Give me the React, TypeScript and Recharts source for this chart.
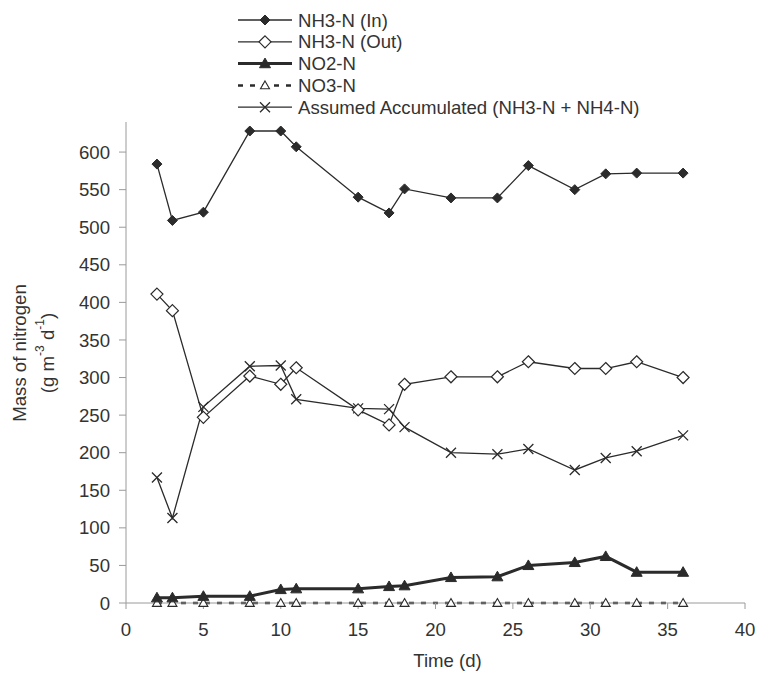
import React from 'react';
import { LineChart, Line, XAxis, YAxis, Legend } from 'recharts';

const days = [2, 3, 5, 8, 10, 11, 15, 17, 18, 21, 24, 26, 29, 31, 33, 36];
const nh3In = [584, 509, 520, 628, 628, 607, 540, 519, 551, 539, 539, 582, 550, 571, 572, 572];
const nh3Out = [411, 389, 247, 302, 291, 313, 257, 237, 291, 301, 301, 321, 312, 312, 321, 300];
const no2 = [7, 7, 9, 9, 18, 19, 19, 22, 23, 34, 35, 50, 54, 62, 41, 41];
const no3 = [0, 0, 0, 0, 0, 0, 0, 0, 0, 0, 0, 0, 0, 0, 0, 0];
const accum = [167, 113, 261, 315, 316, 271, 259, 258, 234, 200, 198, 205, 177, 193, 202, 223];

const xTicks = [0, 5, 10, 15, 20, 25, 30, 35, 40];
const yTicks = [0, 50, 100, 150, 200, 250, 300, 350, 400, 450, 500, 550, 600];

const seriesNames = [
  'NH3-N (In)',
  'NH3-N (Out)',
  'NO2-N',
  'NO3-N',
  'Assumed Accumulated (NH3-N + NH4-N)',
];

const data = days.map((d, i) => ({
  day: d,
  nh3In: nh3In[i],
  nh3Out: nh3Out[i],
  no2: no2[i],
  no3: no3[i],
  accum: accum[i],
}));

const INK = '#2b2b2b';
const TXT = '#333333';
const AXIS = '#9a9a9a';
const FONT = '"Liberation Sans", Arial, sans-serif';
const FS = 18.6;

type Kind = 'fdiamond' | 'odiamond' | 'ftri' | 'otri' | 'x';

function Marker({ kind, cx, cy }: { kind: Kind; cx: number; cy: number }) {
  if (kind === 'fdiamond') {
    const r = 5;
    return <path d={`M${cx},${cy - r}L${cx + r},${cy}L${cx},${cy + r}L${cx - r},${cy}Z`} fill={INK} stroke={INK} strokeWidth={1} />;
  }
  if (kind === 'odiamond') {
    const r = 6;
    return <path d={`M${cx},${cy - r}L${cx + r},${cy}L${cx},${cy + r}L${cx - r},${cy}Z`} fill="#fff" stroke={INK} strokeWidth={1.2} />;
  }
  if (kind === 'ftri') {
    const r = 5.5;
    return <path d={`M${cx},${cy - r}L${cx + r},${cy + r * 0.75}L${cx - r},${cy + r * 0.75}Z`} fill={INK} stroke={INK} strokeWidth={1} />;
  }
  if (kind === 'otri') {
    const r = 4.5;
    return <path d={`M${cx},${cy - r}L${cx + r},${cy + r * 0.75}L${cx - r},${cy + r * 0.75}Z`} fill="#fff" stroke={INK} strokeWidth={1.1} />;
  }
  const r = 5;
  return (
    <path d={`M${cx - r},${cy - r}L${cx + r},${cy + r}M${cx - r},${cy + r}L${cx + r},${cy - r}`} stroke={INK} strokeWidth={1.3} fill="none" />
  );
}

const makeDot = (kind: Kind) => (props: any) => {
  const { cx, cy, index } = props;
  if (cx == null || cy == null) return <g key={`e-${kind}-${index}`} />;
  return (
    <g key={`${kind}-${index}`}>
      <Marker kind={kind} cx={cx} cy={cy} />
    </g>
  );
};

const legendStyles: { kind: Kind; width: number; dash?: string }[] = [
  { kind: 'fdiamond', width: 1.3 },
  { kind: 'odiamond', width: 1.3 },
  { kind: 'ftri', width: 3 },
  { kind: 'otri', width: 2.5, dash: '5 7' },
  { kind: 'x', width: 1.3 },
];

const renderLegend = () => (
  <svg width={440} height={120} style={{ display: 'block' }}>
    {seriesNames.map((name, i) => {
      const y = 20 + i * 21.8;
      const s = legendStyles[i];
      return (
        <g key={name}>
          <line x1={8} x2={62} y1={y} y2={y} stroke={INK} strokeWidth={s.width} strokeDasharray={s.dash} />
          <Marker kind={s.kind} cx={35} cy={y} />
          <text x={68} y={y} dy="0.36em" fontSize={FS} fontFamily={FONT} fill={TXT}>
            {name}
          </text>
        </g>
      );
    })}
  </svg>
);

const YLabel = (props: any) => {
  const vb = props.viewBox || { x: 0, y: 122, width: 126, height: 481 };
  const cy = 353;
  const x1 = vb.x + 19;
  const x2 = vb.x + 47;
  return (
    <g fontFamily={FONT} fontSize={FS} fill={TXT}>
      <text x={x1} y={cy} textAnchor="middle" dominantBaseline="central" transform={`rotate(-90 ${x1} ${cy})`}>
        Mass of nitrogen
      </text>
      <text x={x2} y={cy} textAnchor="middle" dominantBaseline="central" transform={`rotate(-90 ${x2} ${cy})`}>
        (g m
        <tspan dy={-7} fontSize={12}>-3</tspan>
        <tspan dy={7}> d</tspan>
        <tspan dy={-7} fontSize={12}>-1</tspan>
        <tspan dy={7}>)</tspan>
      </text>
    </g>
  );
};

const XLabel = (props: any) => {
  const vb = props.viewBox || { x: 126, y: 603, width: 619, height: 60 };
  const cx = vb.x + vb.width / 2 + 12;
  return (
    <text x={cx} y={667} textAnchor="middle" fontFamily={FONT} fontSize={FS} fill={TXT}>
      Time (d)
    </text>
  );
};

export default function App() {
  return (
    <div style={{ position: 'absolute', left: 0, top: 0, background: '#fff' }}>
      <LineChart width={759} height={673} data={data} margin={{ top: 122, right: 14, bottom: 10, left: 0 }}>
        <XAxis
          dataKey="day"
          type="number"
          domain={[0, 40]}
          ticks={xTicks}
          interval={0}
          stroke={AXIS}
          tickSize={6}
          tickMargin={14}
          height={60}
          tick={{ fill: TXT, fontSize: FS, fontFamily: FONT }}
          label={{ content: <XLabel /> }}
        />
        <YAxis
          type="number"
          domain={[0, 640]}
          ticks={yTicks}
          interval={0}
          width={126}
          stroke={AXIS}
          tickSize={7}
          tickMargin={9}
          tick={{ fill: TXT, fontSize: FS, fontFamily: FONT }}
          label={{ content: <YLabel /> }}
        />
        <Legend
          layout="vertical"
          align="center"
          verticalAlign="middle"
          content={renderLegend}
          wrapperStyle={{ top: 0, left: 230, width: 440, height: 120 }}
        />
        <Line dataKey="no3" name={seriesNames[3]} stroke={INK} strokeWidth={2.5} strokeDasharray="5 7" dot={makeDot('otri')} isAnimationActive={false} activeDot={false} />
        <Line dataKey="no2" name={seriesNames[2]} stroke={INK} strokeWidth={3} dot={makeDot('ftri')} isAnimationActive={false} activeDot={false} />
        <Line dataKey="accum" name={seriesNames[4]} stroke={INK} strokeWidth={1.3} dot={makeDot('x')} isAnimationActive={false} activeDot={false} />
        <Line dataKey="nh3Out" name={seriesNames[1]} stroke={INK} strokeWidth={1.3} dot={makeDot('odiamond')} isAnimationActive={false} activeDot={false} />
        <Line dataKey="nh3In" name={seriesNames[0]} stroke={INK} strokeWidth={1.3} dot={makeDot('fdiamond')} isAnimationActive={false} activeDot={false} />
      </LineChart>
    </div>
  );
}
